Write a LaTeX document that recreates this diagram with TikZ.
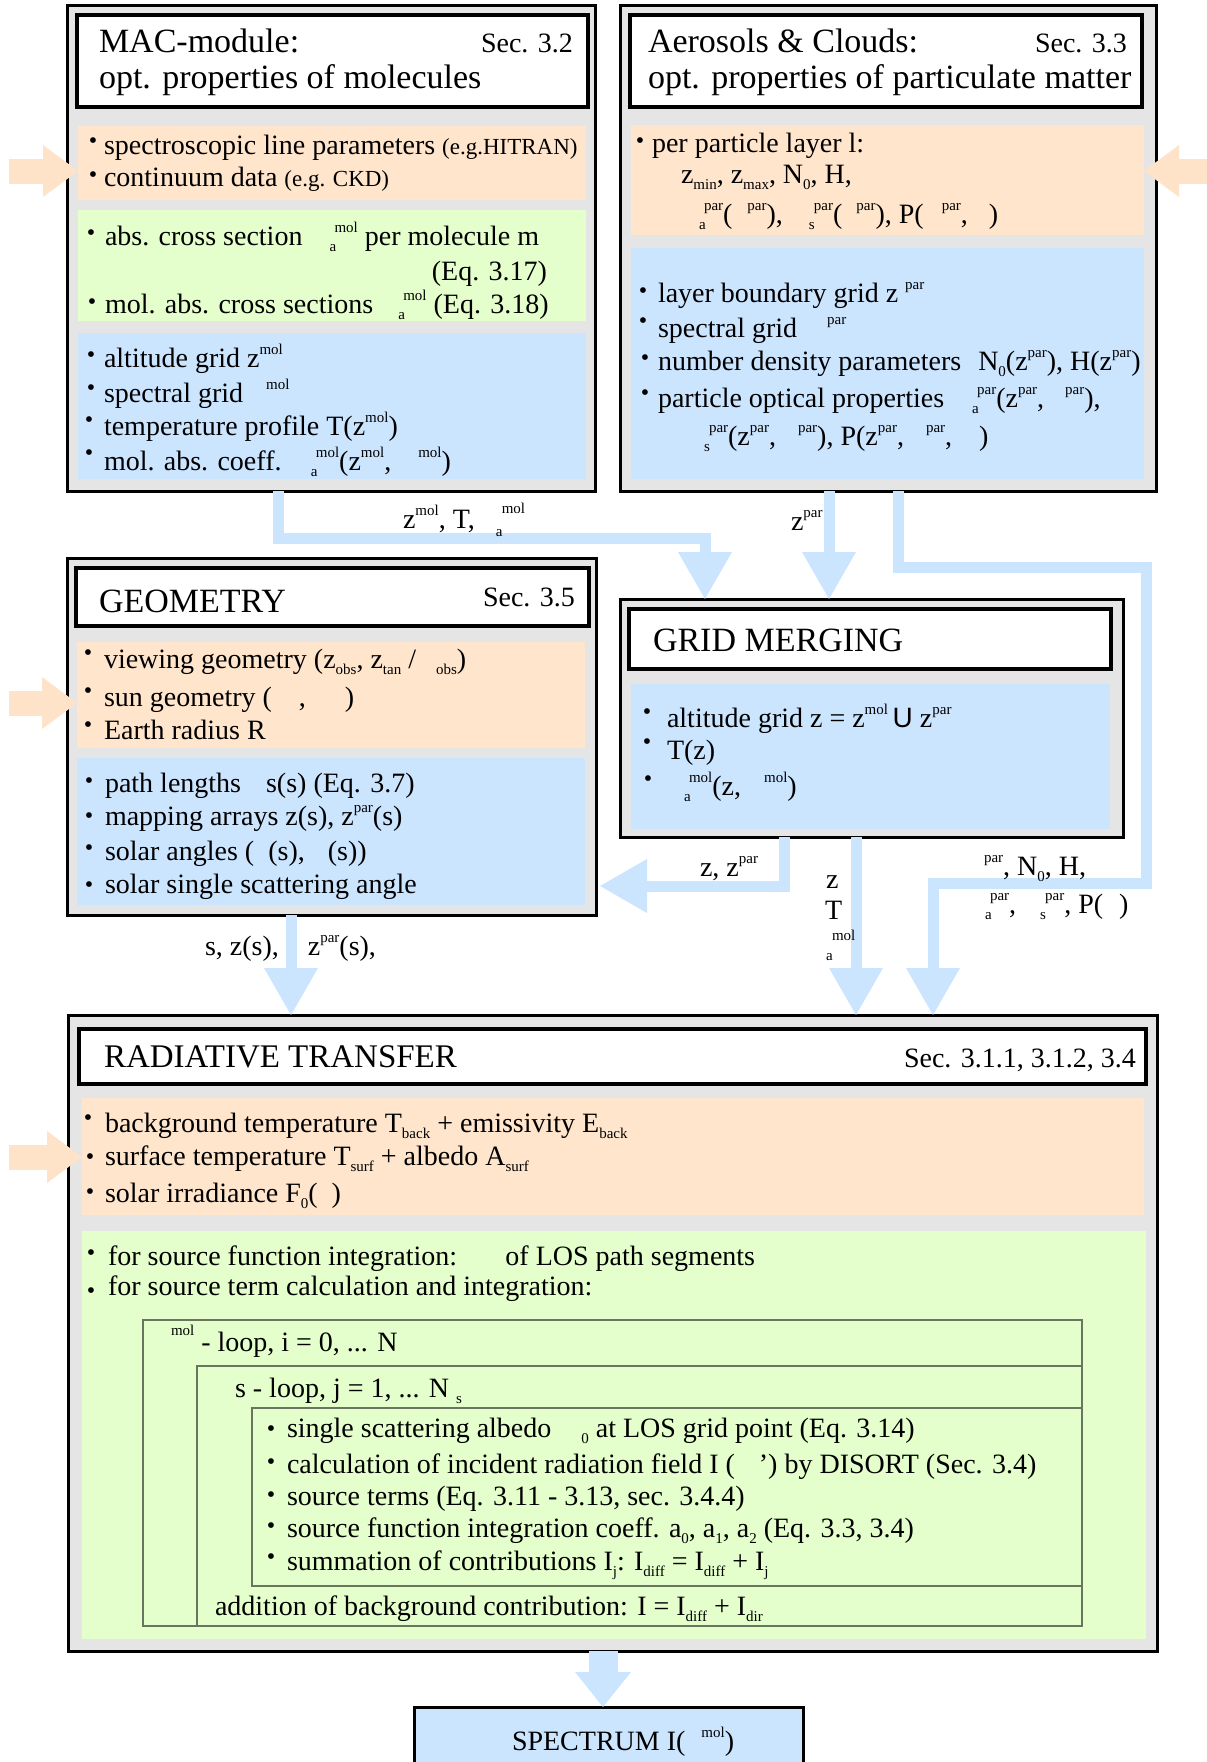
\documentclass[tikz,border=0pt]{standalone}
\usepackage{fontspec}
\setmainfont{Liberation Serif}
\setsansfont{Liberation Sans}
\usetikzlibrary{arrows.meta}
\definecolor{bgray}{HTML}{E5E5E5}
\definecolor{porange}{HTML}{FFE5CC}
\definecolor{pgreen}{HTML}{E5FFCC}
\definecolor{pblue}{HTML}{CCE5FF}
\definecolor{flowc}{HTML}{CCE5FF}
\definecolor{inc}{HTML}{FFE3C8}
\definecolor{loopc}{HTML}{6A7560}
\newcommand{\fb}{\fontsize{28}{32}\selectfont}
\newcommand{\ft}{\fontsize{34}{38}\selectfont}
\newcommand{\fsm}{\fontsize{23}{25}\selectfont}
\newcommand{\fsc}{\fontsize{15}{15}\selectfont}
\newcommand{\Up}[1]{\raisebox{13pt}{\fsc #1}}
\newcommand{\Dn}[1]{\raisebox{-6pt}{\fsc #1}}
\newcommand{\UD}[2]{\makebox[0pt][l]{\Dn{#2}}\hspace{5pt}\Up{#1}}
\newcommand{\gap}[1]{\hspace*{#1pt}}
\newcommand{\mkbox}[6]{\node[#2, minimum width={(#5)-(#3)}, minimum height={(#6)-(#4)}] (#1) at ({((#3)+(#5))/2},{((#4)+(#6))/2}) {};}
\tikzset{
  outerbox/.style={draw=black, line width=3pt, fill=bgray, inner sep=0pt, outer sep=0pt},
  titlebox/.style={draw=black, line width=3.5pt, fill=white, inner sep=0pt, outer sep=0pt},
  orpanel/.style={fill=porange, inner sep=0pt, outer sep=0pt},
  grpanel/.style={fill=pgreen, inner sep=0pt, outer sep=0pt},
  blpanel/.style={fill=pblue, inner sep=0pt, outer sep=0pt},
  loopbox/.style={draw=loopc, line width=1.6pt, inner sep=0pt, outer sep=0pt},
  specbox/.style={draw=black, line width=3pt, fill=pblue, inner sep=0pt, outer sep=0pt},
  flow/.style={draw=flowc, line width=11pt, line join=miter, -{Triangle[width=54pt,length=47pt,line width=0pt]}},
  bigflow/.style={draw=flowc, line width=29pt, -{Triangle[width=56pt,length=35pt,line width=0pt]}},
  inarr/.style={draw=inc, line width=25pt, -{Triangle[width=52pt,length=35pt,line width=0pt]}},
  tx/.style={anchor=base west, inner sep=0pt, outer sep=0pt, font=\fb},
  bl/.style={inner sep=0pt, outer sep=0pt, font=\fontsize{24}{24}\selectfont}
}
\begin{document}
\begin{tikzpicture}[x=1pt,y=-1pt]
\clip (0,0) rectangle (1207,1762);
\fill[white] (0,0) rectangle (1207,1762);
% ---------- MAC ----------
\mkbox{mac}{outerbox}{67}{5}{595}{491}
\mkbox{macor}{orpanel}{78}{126}{586}{200}
\mkbox{macgr}{grpanel}{78}{210}{586}{321}
\mkbox{macbl}{blpanel}{78}{333}{586}{479}
\mkbox{macti}{titlebox}{77}{15}{588}{107}
% ---------- Aerosols ----------
\mkbox{aer}{outerbox}{620}{5}{1156}{491}
\mkbox{aeror}{orpanel}{631}{125}{1144}{235}
\mkbox{aerbl}{blpanel}{631}{248}{1144}{479}
\mkbox{aerti}{titlebox}{630}{15}{1142}{107}
% ---------- Geometry ----------
\mkbox{geo}{outerbox}{67}{558}{596}{915}
\mkbox{geoor}{orpanel}{77}{642}{585}{748}
\mkbox{geobl}{blpanel}{77}{758}{585}{905}
\mkbox{geoti}{titlebox}{76}{568}{589}{626}
% ---------- Grid merging ----------
\mkbox{gm}{outerbox}{620}{599}{1123}{837}
\mkbox{gmbl}{blpanel}{631}{684}{1110}{829}
\mkbox{gmti}{titlebox}{629}{609}{1111}{669}
% ---------- Radiative transfer ----------
\mkbox{rt}{outerbox}{68}{1015}{1157}{1651}
\mkbox{rtor}{orpanel}{82}{1098}{1144}{1215}
\mkbox{rtgr}{grpanel}{82}{1231}{1146}{1639}
\mkbox{rtti}{titlebox}{79}{1029}{1146}{1084}
\mkbox{loopa}{loopbox}{143}{1320}{1082}{1626}
\mkbox{loopb}{loopbox}{197}{1366}{1082}{1626}
\mkbox{loopc}{loopbox}{252}{1408}{1082}{1586}
% ---------- Spectrum ----------
\mkbox{spec}{specbox}{414}{1707}{803}{1800}
% ---------- flow connectors ----------
\coordinate (k1) at (705,538);
\coordinate (k2) at (829,0);
\coordinate (k3a) at (1146,567);
\coordinate (k3b) at (933,883);
\coordinate (k4) at (600,886);
\coordinate (k5) at (856,0);
\coordinate (k6) at (291,0);
\coordinate (k7) at (603,0);
\draw[flow] ([xshift=-53pt]mac.south) |- (k1) -- (gm.north -| k1);
\draw[flow] ([xshift=-59pt]aer.south) -- (gm.north -| k2);
\draw[flow] ([xshift=10pt]aer.south) |- (k3a) |- (k3b) -- (rt.north -| k3b);
\draw[flow] ([xshift=-87.5pt]gm.south) |- (k4);
\draw[flow] ([xshift=-15.5pt]gm.south) -- (rt.north -| k5);
\draw[flow] ([xshift=-40.5pt]geo.south) -- (rt.north -| k6);
\draw[bigflow] ([xshift=-9.5pt]rt.south) -- (spec.north -| k7);
% ---------- input arrows ----------
\coordinate (inM) at (9,171);
\coordinate (inA) at (1207,171);
\coordinate (inG) at (9,703);
\coordinate (inR) at (9,1157);
\draw[inarr] (inM) -- (macor.west |- inM);
\draw[inarr] (inA) -- (aeror.east |- inA);
\draw[inarr] (inG) -- (geoor.west |- inG);
\draw[inarr] (inR) -- (rtor.west |- inR);
% ---------- MAC texts ----------
\node[tx] (macT1) at (99,52) {\ft MAC-module:};
\node[tx] (macS) at (481,52) {Sec. 3.2};
\node[tx] (macT2) at (99,88) {\ft opt. properties of molecules};
\node[bl] (mb1) at (93,143) {\textbullet};
\node[bl] (mb2) at (93,177) {\textbullet};
\node[tx] (m1) at (104,154) {spectroscopic line parameters {\fsm (e.g.HITRAN)}};
\node[tx] (m2) at (104,186) {continuum data {\fsm (e.g. CKD)}};
\node[bl] (mb3) at (91,235) {\textbullet};
\node[bl] (mb4) at (92,304) {\textbullet};
\node[tx] (m3) at (105,245) {abs. cross section \gap{20}\UD{mol}{a} per molecule m};
\node[tx, anchor=base east] (m4) at (547,280) {(Eq. 3.17)};
\node[tx] (m5) at (105,313) {mol. abs. cross sections \gap{18}\UD{mol}{a} (Eq. 3.18)};
\node[bl] (mb5) at (91,357) {\textbullet};
\node[bl] (mb6) at (91,390) {\textbullet};
\node[bl] (mb7) at (89,422) {\textbullet};
\node[bl] (mb8) at (89,455) {\textbullet};
\node[tx] (m6) at (104,367) {altitude grid z\Up{mol}};
\node[tx] (m7) at (104,402) {spectral grid \gap{16}\Up{mol}};
\node[tx] (m8) at (104,435) {temperature profile T(z\Up{mol})};
\node[tx] (m9) at (104,470) {mol. abs. coeff. \gap{20}\UD{mol}{a}(z\Up{mol}, \gap{20}\Up{mol})};
% ---------- Aerosol texts ----------
\node[tx] (aT1) at (648,52) {\ft Aerosols \& Clouds:};
\node[tx] (aS) at (1035,52) {Sec. 3.3};
\node[tx] (aT2) at (648,88) {\ft opt. properties of particulate matter};
\node[bl] (ab1) at (640,143) {\textbullet};
\node[tx] (a1) at (652,152) {per particle layer l:};
\node[tx] (a2) at (681,183) {z\Dn{min}, z\Dn{max}, N\Dn{0}, H,};
\node[tx] (a3) at (683,223) {\gap{16}\UD{par}{a}(\gap{15}\Up{par}), \gap{19}\UD{par}{s}(\gap{14}\Up{par}), P(\gap{18}\Up{par}, \gap{14})};
\node[bl] (ab2) at (643,293) {\textbullet};
\node[bl] (ab3) at (643,323) {\textbullet};
\node[bl] (ab4) at (645,360) {\textbullet};
\node[bl] (ab5) at (645,395) {\textbullet};
\node[tx] (a4) at (658,302) {layer boundary grid z \Up{par}};
\node[tx] (a5) at (658,337) {spectral grid \gap{23}\Up{par}};
\node[tx] (a6) at (658,370) {number density parameters\gap{17}N\Dn{0}(z\Up{par}), H(z\Up{par})};
\node[tx] (a7) at (658,407) {particle optical properties \gap{21}\UD{par}{a}(z\Up{par}, \gap{14}\Up{par}),};
\node[tx] (a8) at (704,445) {\UD{par}{s}(z\Up{par}, \gap{15}\Up{par}), P(z\Up{par}, \gap{15}\Up{par}, \gap{20})};
% ---------- Geometry texts ----------
\node[tx] (gT) at (99,612) {\ft GEOMETRY};
\node[tx] (gS) at (483,606) {Sec. 3.5};
\node[bl] (gb1) at (88,655) {\textbullet};
\node[bl] (gb2) at (88,693) {\textbullet};
\node[bl] (gb3) at (88,727) {\textbullet};
\node[tx] (g1) at (104,668) {viewing geometry (z\Dn{obs}, z\Dn{tan} / \gap{13}\Dn{obs})};
\node[tx] (g2) at (104,706) {sun geometry (\gap{27}, \gap{32})};
\node[tx] (g3) at (104,739) {Earth radius R};
\node[bl] (gb4) at (89,783) {\textbullet};
\node[bl] (gb5) at (89,818) {\textbullet};
\node[bl] (gb6) at (89,850) {\textbullet};
\node[bl] (gb7) at (89,887) {\textbullet};
\node[tx] (g4) at (105,792) {path lengths \gap{18}s(s) (Eq. 3.7)};
\node[tx] (g5) at (105,825) {mapping arrays z(s), z\Up{par}(s)};
\node[tx] (g6) at (105,860) {solar angles (\gap{14}(s), \gap{16}(s))};
\node[tx] (g7) at (105,893) {solar single scattering angle};
% ---------- Grid merging texts ----------
\node[tx] (mT) at (653,651) {\ft GRID MERGING};
\node[bl] (gmb1) at (647,714) {\textbullet};
\node[bl] (gmb2) at (647,744) {\textbullet};
\node[bl] (gmb3) at (648,781) {\textbullet};
\node[tx] (gm1) at (667,727) {altitude grid z = z\Up{mol}\,{\sffamily U} z\Up{par}};
\node[tx] (gm2) at (667,759) {T(z)};
\node[tx] (gm3) at (684,795) {\UD{mol}{a}(z, \gap{16}\Up{mol})};
% ---------- connector labels ----------
\node[tx] (l1) at (403,528) {z\Up{mol}, T, \gap{14}\makebox[0pt][l]{\raisebox{-8pt}{\fsc a}}\hspace{6pt}\raisebox{15pt}{\fsc mol}};
\node[tx] (l2) at (791,530) {z\Up{par}};
\node[tx] (l3) at (205,955) {s, z(s), \gap{22}z\Up{par}(s),};
\node[tx] (l4) at (700,876) {z, z\Up{par}};
\node[tx] (l5) at (826,888) {z};
\node[tx] (l6) at (825,919) {T};
\node[tx] (l7) at (832,940) {\fsc mol};
\node[tx] (l8) at (826,960) {\fsc a};
\node[tx] (l9) at (970,875) {\gap{14}\Up{par}, N\Dn{0}, H,};
\node[tx] (l10) at (985,913) {\UD{par}{a}, \gap{17}\UD{par}{s}, P(\gap{16})};
% ---------- Radiative transfer texts ----------
\node[tx] (rT) at (104,1067) {\fontsize{33}{36}\selectfont RADIATIVE TRANSFER};
\node[tx] (rS) at (904,1067) {Sec. 3.1.1, 3.1.2, 3.4};
\node[bl] (rb1) at (88,1120) {\textbullet};
\node[bl] (rb2) at (90,1159) {\textbullet};
\node[bl] (rb3) at (90,1194) {\textbullet};
\node[tx] (r1) at (105,1132) {background temperature T\Dn{back} + emissivity E\Dn{back}};
\node[tx] (r2) at (105,1165) {surface temperature T\Dn{surf} + albedo A\Dn{surf}};
\node[tx] (r3) at (105,1202) {solar irradiance F\Dn{0}(\gap{14})};
\node[bl] (rb4) at (91,1255) {\textbullet};
\node[bl] (rb5) at (91,1293) {\textbullet};
\node[tx] (r4) at (108,1265) {for source function integration: \gap{39}of LOS path segments};
\node[tx] (r5) at (108,1295) {for source term calculation and integration:};
\node[tx] (r6) at (171,1351) {\raisebox{16pt}{\fsc mol} - loop, i = 0, ... N};
\node[tx] (r7) at (235,1397) {s - loop, j = 1, ... N \Dn{s}};
\node[bl] (rb6) at (271,1431) {\textbullet};
\node[bl] (rb7) at (271,1464) {\textbullet};
\node[bl] (rb8) at (271,1497) {\textbullet};
\node[bl] (rb9) at (271,1528) {\textbullet};
\node[bl] (rb10) at (271,1559) {\textbullet};
\node[tx] (r8) at (287,1437) {single scattering albedo \gap{23}\Dn{0} at LOS grid point (Eq. 3.14)};
\node[tx] (r9) at (287,1473) {calculation of incident radiation field I (\gap{24}’) by DISORT (Sec. 3.4)};
\node[tx] (r10) at (287,1505) {source terms (Eq. 3.11 - 3.13, sec. 3.4.4)};
\node[tx] (r11) at (287,1537) {source function integration coeff. a\Dn{0}, a\Dn{1}, a\Dn{2} (Eq. 3.3, 3.4)};
\node[tx] (r12) at (287,1570) {summation of contributions I\Dn{j}: I\Dn{diff} = I\Dn{diff} + I\Dn{j}};
\node[tx] (r13) at (215,1615) {addition of background contribution: I = I\Dn{diff} + I\Dn{dir}};
% ---------- Spectrum text ----------
\node[tx] (sp1) at (512,1750) {SPECTRUM I(\gap{16}\Up{mol})};
\end{tikzpicture}
\end{document}
